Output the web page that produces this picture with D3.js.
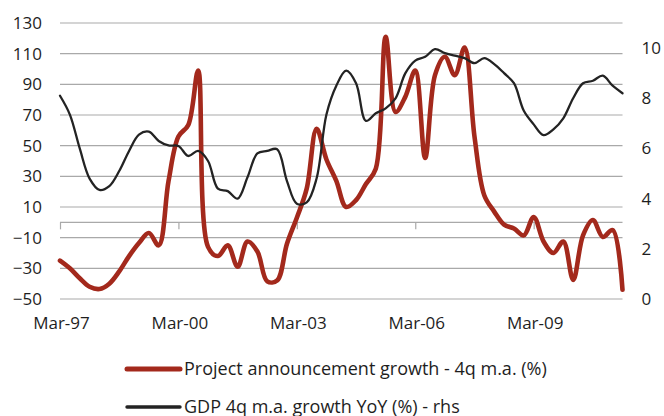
<!DOCTYPE html>
<html>
<head>
<meta charset="utf-8">
<script src="https://cdn.jsdelivr.net/npm/d3@7/dist/d3.min.js"></script>
<style>
  html, body { margin: 0; padding: 0; background: #fff; }
  svg { display: block; font-family: "Open Sans", sans-serif; }
</style>
</head>
<body>
<svg id="chart" width="664" height="416"></svg>
<script>
// Quarterly series, Mar-97 through Jun-11
const startYear = 1997;
const quarterMonths = ["Mar", "Jun", "Sep", "Dec"];

// Project announcement growth, 4-quarter moving average (%), left axis
const projectGrowth = [
  -25, -30, -36.5, -42, -43.5, -40, -32, -22, -13.5, -7,
  -15, 27, 56, 63.5, 99, -16, -22, -15, -29, -12.5,
  -19, -38.5, -38, -14, 3, 22, 61, 41, 27, 10,
  14.5, 25, 35, 121, 72, 82, 99, 42, 96, 108,
  96, 114, 56, 17.5, 7, -1.5, -4, -8.5, 3.5, -12.5,
  -20, -12.5, -37.5, -8.5, 1.5, -9.5, -5, -44
];

// GDP 4-quarter moving average growth YoY (%), right axis
const gdpGrowth = [
  8.1, 7.35, 6.0, 4.8, 4.35, 4.5, 5.1, 5.9, 6.55, 6.67,
  6.3, 6.12, 6.1, 5.7, 5.9, 5.5, 4.4, 4.3, 4.0, 4.85,
  5.8, 5.9, 5.97, 4.7, 3.8, 3.85, 4.8, 7.35, 8.5, 9.1,
  8.6, 7.1, 7.4, 7.6, 8.0, 9.0, 9.5, 9.65, 9.96, 9.8,
  9.7, 9.6, 9.4, 9.6, 9.36, 9.0, 8.6, 7.5, 6.96, 6.53,
  6.76, 7.2, 8.0, 8.6, 8.7, 8.9, 8.5, 8.2
];

const categories = projectGrowth.map((_, i) =>
  quarterMonths[i % 4] + "-" + String((startYear + Math.floor(i / 4)) % 100).padStart(2, "0"));

const leftTicks = [-50, -30, -10, 10, 30, 50, 70, 90, 110, 130];
const rightTicks = [0, 2, 4, 6, 8, 10];
const xTickLabels = ["Mar-97", "Mar-00", "Mar-03", "Mar-06", "Mar-09"];

const seriesNames = [
  "Project announcement growth - 4q m.a. (%)",
  "GDP 4q m.a. growth YoY (%) - rhs"
];
const colors = { project: "#a3291c", gdp: "#232323" };

const svg = d3.select("#chart");
const plot = { left: 60, right: 622.5, top: 23, bottom: 299 };

const x = d3.scaleLinear().domain([0, categories.length - 1]).range([plot.left, plot.right]);
const yL = d3.scaleLinear().domain([-50, 130]).range([plot.bottom, plot.top]);
const yR = d3.scaleLinear().domain([0, 11]).range([plot.bottom, plot.top]);

// Horizontal gridlines at the left-axis ticks
svg.append("g")
  .selectAll("line")
  .data(leftTicks)
  .join("line")
  .attr("x1", plot.left).attr("x2", plot.right)
  .attr("y1", d => yL(d)).attr("y2", d => yL(d))
  .attr("stroke", "#a9a9a9").attr("stroke-width", 1.2);

// Left axis labels
const leftAxis = d3.axisLeft(yL).tickValues(leftTicks).tickSize(0).tickPadding(18);
svg.append("g")
  .attr("transform", `translate(${plot.left},0)`)
  .call(leftAxis)
  .call(g => g.select(".domain").remove())
  .call(g => g.selectAll("text").attr("font-size", 17).attr("fill", "#1e1e1e")
    .attr("font-family", "Open Sans, sans-serif"));

// Right axis labels
const rightAxis = d3.axisRight(yR).tickValues(rightTicks).tickSize(0).tickPadding(19);
svg.append("g")
  .attr("transform", `translate(${plot.right},0)`)
  .call(rightAxis)
  .call(g => g.select(".domain").remove())
  .call(g => g.selectAll("text").attr("font-size", 17).attr("fill", "#1e1e1e")
    .attr("font-family", "Open Sans, sans-serif"));

// Category axis crossing at zero
const xTickIdx = xTickLabels.map(l => categories.indexOf(l));
const xAxis = d3.axisBottom(x).tickValues(xTickIdx).tickSize(7).tickFormat(() => "");
svg.append("g")
  .attr("transform", `translate(0,${yL(0)})`)
  .call(xAxis)
  .call(g => g.select(".domain").attr("stroke", "#a9a9a9").attr("stroke-width", 1.2)
    .attr("d", `M${plot.left},0H${plot.right}`))
  .call(g => g.selectAll(".tick line").attr("stroke", "#a9a9a9").attr("stroke-width", 1.2));

// Category labels below the plot
svg.append("g")
  .selectAll("text")
  .data(xTickIdx)
  .join("text")
  .attr("x", d => x(d) + 1.5)
  .attr("y", 322)
  .attr("text-anchor", "middle")
  .attr("dominant-baseline", "central")
  .attr("font-size", 17)
  .attr("fill", "#1e1e1e")
  .text(d => categories[d]);

// Series lines
const curve = d3.curveCatmullRom.alpha(0.5);
const projectLine = d3.line().x((d, i) => x(i)).y(d => yL(d)).curve(curve);
const gdpLine = d3.line().x((d, i) => x(i)).y(d => yR(d)).curve(curve);

svg.append("path")
  .datum(projectGrowth)
  .attr("d", projectLine)
  .attr("fill", "none")
  .attr("stroke", colors.project)
  .attr("stroke-width", 4.6)
  .attr("stroke-linejoin", "round")
  .attr("stroke-linecap", "round");

svg.append("path")
  .datum(gdpGrowth)
  .attr("d", gdpLine)
  .attr("fill", "none")
  .attr("stroke", colors.gdp)
  .attr("stroke-width", 2.3)
  .attr("stroke-linejoin", "round")
  .attr("stroke-linecap", "round");

// Legend
const legend = svg.append("g");
const legendItems = [
  { name: seriesNames[0], color: colors.project, width: 5, y: 369, baseline: 375 },
  { name: seriesNames[1], color: colors.gdp, width: 3.4, y: 407, baseline: 413 }
];
legendItems.forEach(item => {
  legend.append("line")
    .attr("x1", 127).attr("x2", 180)
    .attr("y1", item.y).attr("y2", item.y)
    .attr("stroke", item.color).attr("stroke-width", item.width)
    .attr("stroke-linecap", "round");
  legend.append("text")
    .attr("x", 184).attr("y", item.baseline)
    .attr("font-size", 18)
    .attr("fill", "#1e1e1e")
    .text(item.name);
});
</script>
</body>
</html>
